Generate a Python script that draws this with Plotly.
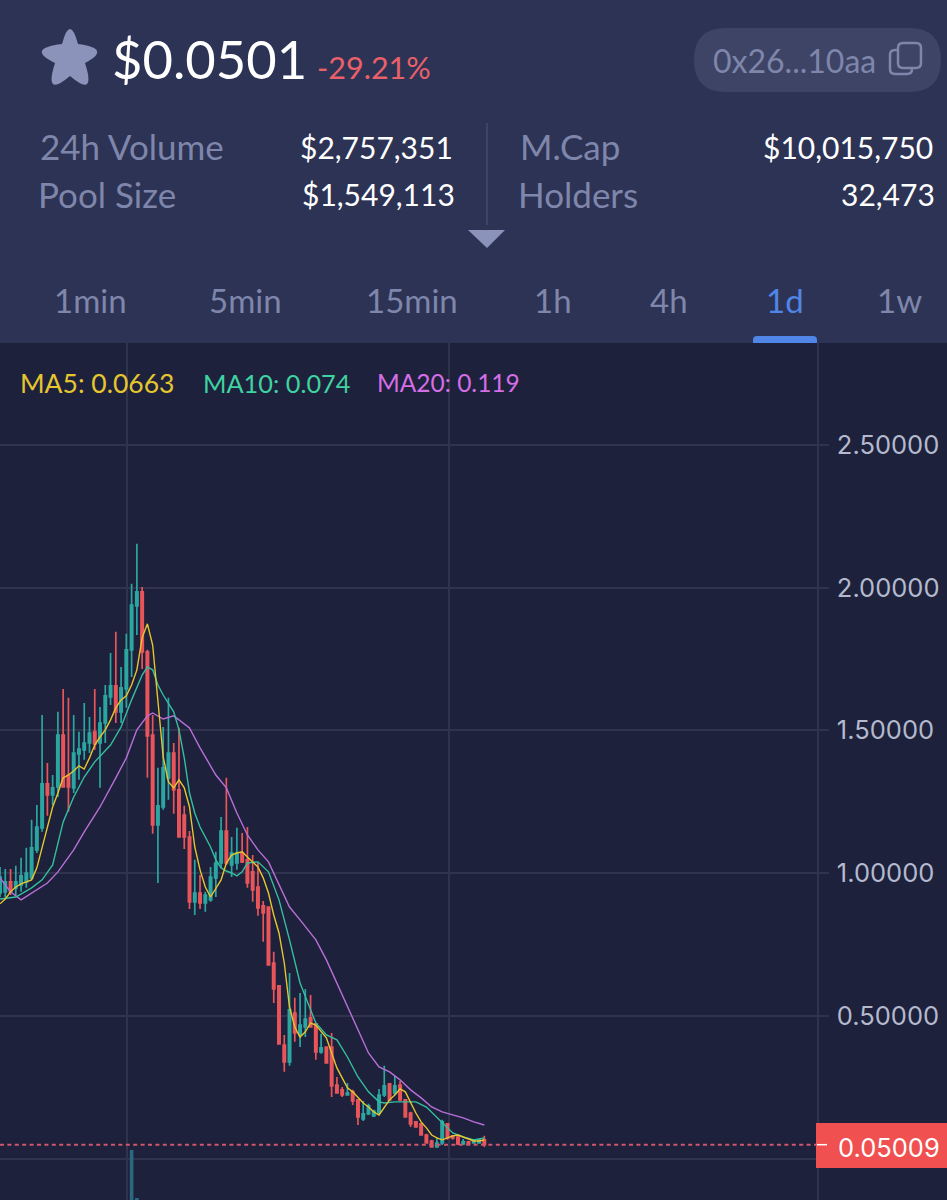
import plotly.graph_objects as go

opens = [.931, .935, .970, .949, .959, .970, .984, 1.082, 1.159, 1.313,
         1.274, 1.302, 1.484, 1.344, 1.299, 1.418, 1.432, 1.456, 1.495, 1.456,
         1.526, 1.617, 1.656, 1.565, 1.645, 1.782, 1.936, 1.985, 1.775, 1.484,
         1.169, 1.232, 1.334, 1.421, 1.292, 1.204, 1.127, .900, .931, .896,
         .907, .984, 1.036, 1.148, 1.029, 1.036, 1.071, 1.047, 1.005, .952,
         .886, .882, .686, .606, .399, .340, .511, .434, .462, .494,
         .473, .375, .392, .392, .259, .242, .224, .235, .207, .140,
         .158, .151, .161, .224, .263, .231, .259, .207, .161, .130,
         .123, .084, .063, .042, .056, .123, .081, .077, .053, .060,
         .056, .056, .067]
highs = [1.022, 1.015, 1.015, 1.026, 1.054, 1.089, 1.187, 1.239, 1.554, 1.386,
         1.344, 1.565, 1.645, 1.614, 1.554, 1.495, 1.596, 1.547, 1.645, 1.582,
         1.659, 1.771, 1.845, 1.722, 1.838, 2.013, 2.153, 2.002, 1.782, 1.554,
         1.369, 1.512, 1.614, 1.456, 1.509, 1.236, 1.148, 1.047, .994, .935,
         1.022, 1.075, 1.197, 1.334, 1.127, 1.159, 1.141, 1.162, 1.064, 1.036,
         .903, .882, .725, .609, .434, .651, .564, .581, .595, .574,
         .476, .438, .392, .441, .287, .252, .266, .242, .210, .203,
         .193, .172, .245, .326, .266, .291, .273, .210, .165, .133,
         .126, .088, .067, .074, .137, .126, .084, .081, .070, .060,
         .070, .070, .081]
lows = [.917, .917, .924, .924, .935, .949, .977, 1.071, 1.145, 1.201,
        1.239, 1.267, 1.299, 1.215, 1.281, 1.327, 1.397, 1.421, 1.432, 1.299,
        1.456, 1.589, 1.526, 1.526, 1.579, 1.687, 1.834, 1.715, 1.334, 1.138,
        .966, 1.222, 1.257, 1.208, 1.127, 1.085, .875, .854, .875, .865,
        .900, .917, 1.019, 1.029, .987, 1.012, 1.036, .949, .900, .851,
        .760, .679, .546, .403, .305, .326, .410, .392, .427, .459,
        .347, .368, .336, .217, .231, .217, .224, .189, .119, .133,
        .154, .147, .154, .217, .203, .224, .203, .147, .112, .112,
        .084, .056, .042, .039, .049, .067, .067, .049, .049, .049,
        .056, .056, .042]
closes = [.987, .970, .935, .970, .991, 1.001, 1.089, 1.162, 1.313, 1.274,
          1.299, 1.484, 1.302, 1.302, 1.421, 1.435, 1.456, 1.491, 1.453, 1.526,
          1.621, 1.656, 1.565, 1.649, 1.782, 1.939, 1.985, 1.775, 1.481, 1.169,
          1.236, 1.369, 1.421, 1.292, 1.127, 1.127, .900, .931, .896, .924,
          .987, 1.036, 1.148, 1.036, 1.071, 1.071, 1.040, .966, .942, .879,
          .861, .679, .595, .403, .340, .522, .441, .469, .490, .462,
          .375, .389, .336, .256, .231, .224, .231, .203, .147, .158,
          .186, .168, .224, .256, .207, .256, .207, .147, .123, .112,
          .084, .056, .042, .056, .130, .074, .074, .053, .060, .053,
          .063, .067, .0501]

ma5 = [.893, .910, .935, .952, .963, .970, .977, 1.019, 1.089, 1.162,
       1.232, 1.281, 1.334, 1.344, 1.358, 1.376, 1.365, 1.404, 1.449, 1.477,
       1.502, 1.537, 1.579, 1.607, 1.621, 1.659, 1.712, 1.824, 1.873, 1.799,
       1.596, 1.407, 1.320, 1.299, 1.327, 1.299, 1.232, 1.092, 1.012, .952,
       .917, .949, .977, 1.036, 1.064, 1.071, 1.075, 1.057, 1.040, 1.022,
       .984, .931, .854, .791, .686, .532, .462, .427, .445, .476,
       .469, .445, .424, .371, .319, .284, .249, .235, .214, .196,
       .182, .165, .154, .182, .207, .224, .245, .235, .196, .161,
       .130, .109, .084, .074, .067, .074, .081, .084, .077, .070,
       .063, .063, .0663]

ma10_x = [0, 3, 6, 8, 10, 11, 12, 14, 16, 18, 21, 23, 25, 27, 28, 29, 30, 31, 32, 33,
          34, 35, 36, 37, 38, 39, 40, 41, 42, 43, 44, 45, 46, 47, 49, 51, 53, 55, 57, 59,
          60, 62, 64, 66, 68, 70, 72, 73, 75, 77, 79, 81, 83, 84, 86, 88, 90, 92]
ma10 = [.910, .917, .949, .977, 1.029, 1.106, 1.180, 1.267, 1.337, 1.390,
        1.449, 1.512, 1.607, 1.694, 1.722, 1.712, 1.659, 1.624, 1.596, 1.565,
        1.502, 1.404, 1.281, 1.211, 1.162, 1.127, 1.092, 1.047, 1.019, 1.008,
        1.001, .991, 1.005, 1.036, 1.040, 1.005, .907, .767, .616, .522,
        .476, .434, .417, .357, .287, .235, .200, .196, .200, .200,
        .200, .182, .147, .126, .091, .077, .067, .074]

ma20_x = [0, 2, 4, 6, 9, 11, 13, 14, 16, 19, 22, 24, 26, 28, 29, 31, 33, 36, 38, 41,
          43, 45, 47, 49, 51, 53, 55, 57, 59, 60, 62, 64, 66, 68, 70, 72, 74, 76, 78, 80,
          82, 84, 86, 88, 90, 92]
ma20 = [.984, .935, .907, .931, .966, 1.005, 1.054, 1.082, 1.145, 1.232,
        1.334, 1.404, 1.502, 1.551, 1.561, 1.540, 1.551, 1.509, 1.439, 1.344,
        1.299, 1.211, 1.134, 1.082, 1.040, .959, .882, .837, .791, .767,
        .697, .616, .532, .452, .371, .322, .305, .277, .242, .214,
        .182, .165, .154, .144, .130, .119]

volume_x = [25, 26]
volume = [17.5, 0.7]

last_price = 0.05009
price_ticks = [0, 0.5, 1, 1.5, 2, 2.5]
grid_x = [24.2, 85.2]

stats_left = [("24h Volume", 38, 146), ("Pool Size", 36, 194), ("M.Cap", 518, 146), ("Holders", 516, 194)]
stats_right = [("$2,757,351", 455, 146.5), ("$1,549,113", 457, 194.5), ("$10,015,750", 935, 146.5), ("32,473", 937, 194.5)]
tabs = [("1min", 90), ("5min", 246), ("15min", 412), ("1h", 553), ("4h", 669), ("1d", 785), ("1w", 900)]
ma_labels = [("MA5: 0.0663", 18, 26.5, "#e6c62f"), ("MA10: 0.074", 201, 25.3, "#3fd3a2"), ("MA20: 0.119", 375, 24.5, "#d56ee6")]

HEADER = "#2d3354"
CHART = "#1d213b"
GRID = "#2f334c"
MUTED = "#7f86ab"
ICON = "#8b93bb"
FONT = "Lato"


# plot area runs 0-817 across and 343-1200 down, the header is drawn in paper coords around it
def px(x):
    return x / 817


def py(y):
    return (1200 - y) / 857


def label(text, x, y, size, color, anchor="left"):
    fig.add_annotation(
        text=text, x=px(x), y=py(y), xref="paper", yref="paper",
        xanchor=anchor, yanchor="middle", showarrow=False,
        font={"family": FONT, "size": size, "color": color},
    )


def rounded_rect(x0, y0, x1, y1, r, **kwargs):
    corners = (
        f"M{px(x0 + r):.5f},{py(y0):.5f} L{px(x1 - r):.5f},{py(y0):.5f} "
        f"Q{px(x1):.5f},{py(y0):.5f} {px(x1):.5f},{py(y0 + r):.5f} L{px(x1):.5f},{py(y1 - r):.5f} "
        f"Q{px(x1):.5f},{py(y1):.5f} {px(x1 - r):.5f},{py(y1):.5f} L{px(x0 + r):.5f},{py(y1):.5f} "
        f"Q{px(x0):.5f},{py(y1):.5f} {px(x0):.5f},{py(y1 - r):.5f} L{px(x0):.5f},{py(y0 + r):.5f} "
        f"Q{px(x0):.5f},{py(y0):.5f} {px(x0 + r):.5f},{py(y0):.5f} Z"
    )
    fig.add_shape(type="path", path=corners, xref="paper", yref="paper", **kwargs)


fig = go.Figure()
x_idx = list(range(len(closes)))

fig.add_trace(go.Bar(x=volume_x, y=volume, yaxis="y2", width=0.7, marker={"color": "#2d6680", "line": {"width": 0}}))
fig.add_trace(
    go.Candlestick(
        x=x_idx, open=opens, high=highs, low=lows, close=closes,
        increasing={"line": {"color": "#2ba6a0", "width": 1.7}, "fillcolor": "#2ba6a0"},
        decreasing={"line": {"color": "#e8555a", "width": 1.7}, "fillcolor": "#e8555a"},
        whiskerwidth=0,
    )
)
fig.add_trace(go.Scatter(x=ma20_x, y=ma20, mode="lines", line={"color": "#b86fd8", "width": 1.4}))
fig.add_trace(go.Scatter(x=ma10_x, y=ma10, mode="lines", line={"color": "#35bfa0", "width": 1.4}))
fig.add_trace(go.Scatter(x=x_idx, y=ma5, mode="lines", line={"color": "#e6c62f", "width": 1.4}))

fig.update_layout(
    width=947,
    height=1200,
    margin={"l": 0, "r": 130, "t": 343, "b": 0, "pad": 0},
    paper_bgcolor=CHART,
    plot_bgcolor=CHART,
    showlegend=False,
    boxgap=0.38,
    xaxis={
        "range": [0, 155.2],
        "tickvals": grid_x,
        "showticklabels": False,
        "ticks": "",
        "showgrid": True,
        "gridcolor": GRID,
        "gridwidth": 1.5,
        "zeroline": False,
        "rangeslider": {"visible": False},
    },
    yaxis={
        "side": "right",
        "range": [-0.1435, 2.856],
        "tickvals": price_ticks,
        "tickformat": ".5f",
        "ticks": "outside",
        "ticklen": 10,
        "tickcolor": GRID,
        "tickwidth": 1.5,
        "ticklabelstandoff": 3,
        "showgrid": True,
        "gridcolor": GRID,
        "gridwidth": 1.5,
        "zeroline": False,
        "showline": True,
        "linecolor": GRID,
        "linewidth": 1.5,
        "tickfont": {"family": "Inter", "size": 25.5, "color": "#b4b9cd"},
    },
    yaxis2={"overlaying": "y", "range": [0, 300], "visible": False},
)

# header band
fig.add_shape(type="rect", xref="paper", yref="paper", x0=0, x1=px(947), y0=1, y1=py(0),
              fillcolor=HEADER, line={"width": 0}, layer="below")

# star, each tip is a curve between two notches
star = (
    f"M{px(62):.5f},{py(44):.5f} "
    f"Q{px(70):.5f},{py(14):.5f} {px(78):.5f},{py(44):.5f} "
    f"Q{px(112.5):.5f},{py(48.5):.5f} {px(85):.5f},{py(63):.5f} "
    f"Q{px(96.5):.5f},{py(98.5):.5f} {px(70):.5f},{py(76):.5f} "
    f"Q{px(43.5):.5f},{py(98.5):.5f} {px(55):.5f},{py(63):.5f} "
    f"Q{px(25.5):.5f},{py(48.5):.5f} {px(62):.5f},{py(44):.5f} Z"
)
fig.add_shape(type="path", path=star, xref="paper", yref="paper", fillcolor=ICON, line={"width": 0})

# address pill and copy icon
rounded_rect(694, 28, 941, 92, 32, fillcolor="#3d4466", line={"width": 0})
rounded_rect(890, 50, 912, 74, 5, line={"color": MUTED, "width": 2.5})
rounded_rect(898, 43, 921, 68, 5, fillcolor="#3d4466", line={"color": MUTED, "width": 2.5})

# divider and drop-down arrow
fig.add_shape(type="line", xref="paper", yref="paper", x0=px(487), x1=px(487), y0=py(123), y1=py(225),
              line={"color": "#444b6c", "width": 1.5})
arrow = f"M{px(468):.5f},{py(230):.5f} L{px(505):.5f},{py(230):.5f} L{px(487):.5f},{py(248):.5f} Z"
fig.add_shape(type="path", path=arrow, xref="paper", yref="paper", fillcolor=ICON, line={"width": 0})

# selected tab marker
rounded_rect(753, 336, 817, 346, 4, fillcolor="#4f86e8", line={"width": 0})
fig.add_shape(type="rect", xref="paper", yref="paper", x0=px(753), x1=px(817), y0=py(343), y1=py(347),
              fillcolor=CHART, line={"width": 0})

# last price line and tag
fig.add_shape(type="line", xref="paper", yref="y", x0=0, x1=1, y0=last_price, y1=last_price,
              line={"color": "#d0566c", "width": 2, "dash": "4px,3.4px"})
fig.add_shape(type="rect", xref="paper", yref="paper", x0=px(816), x1=px(947), y0=py(1123), y1=py(1168),
              fillcolor="#f0504f", line={"width": 0}, layer="above")
fig.add_shape(type="line", xref="paper", yref="y", x0=px(817), x1=px(827), y0=last_price, y1=last_price,
              line={"color": "#ffffff", "width": 1.5}, layer="above")

label("$0.0501", 110, 58, 52.5, "#ffffff")
label("-29.21%", 315, 67, 30.5, "#e9606a")
label("0x26...10aa", 711, 60, 32, MUTED)
for text, x, y in stats_left:
    label(text, x, y, 35, MUTED)
for text, x, y in stats_right:
    label(text, x, y, 30, "#ffffff", anchor="right")
for text, x in tabs:
    label(text, x, 300, 33, "#4f86e8" if text == "1d" else MUTED, anchor="center")
for text, x, size, color in ma_labels:
    label(text, x, 382.5, size, color)
fig.add_annotation(
    text=f"{last_price:.5f}", x=px(942), y=py(1147), xref="paper", yref="paper",
    xanchor="right", yanchor="middle", showarrow=False,
    font={"family": "Inter", "size": 25.5, "color": "#ffffff"},
)

fig.write_html("out.html", config={"displayModeBar": False}, post_script="document.body.style.margin='0';")
